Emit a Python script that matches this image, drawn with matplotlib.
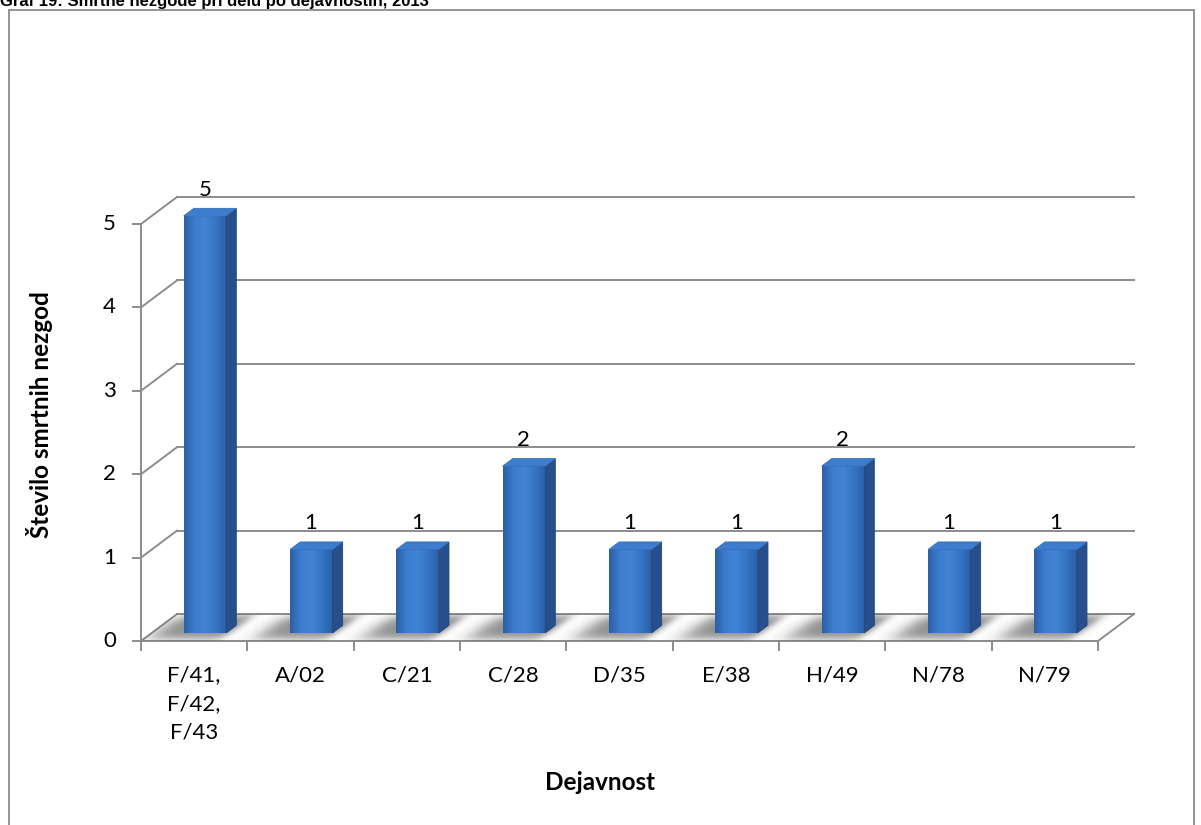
import numpy as np
import matplotlib
matplotlib.use("Agg")
from matplotlib import pyplot as plt
from matplotlib.patches import Polygon, Rectangle
from matplotlib.colors import LinearSegmentedColormap

plt.rcParams['font.family'] = ['Lato', 'DejaVu Sans']

# podatki
dejavnosti = ["F/41,\nF/42,\nF/43", "A/02", "C/21", "C/28", "D/35", "E/38", "H/49", "N/78", "N/79"]
stevilo = [5, 1, 1, 2, 1, 1, 2, 1, 1]
y_ticks = [0, 1, 2, 3, 4, 5]

naslov = "Graf 19: Smrtne nezgode pri delu po dejavnostih, 2013"

# globina 3D prikaza v enotah podatkov
DX = 0.3386
DY = 0.3237
D0, D1 = 0.30, 0.58       # sprednja/zadnja stran stolpca
SIRINA = 0.40
GRID = "#8c8c8c"
FS = 16

fig = plt.figure(figsize=(12.01, 8.25), dpi=100)
ax = fig.add_axes([110/1201, 165/825, 1050/1201, 490/825])
ax.axis("off")

n = len(stevilo)

# zadnja stena - mreza
for k in y_ticks:
    ax.plot([DX, n + DX], [k + DY, k + DY], color=GRID, lw=1.4, zorder=1)
    ax.plot([0, DX], [k, k + DY], color=GRID, lw=1.4, zorder=1)
# leva os
ax.plot([0, 0], [0, y_ticks[-1]], color=GRID, lw=1.4, zorder=1)
for k in y_ticks:
    ax.plot([-0.075, 0], [k, k], color=GRID, lw=1.4, zorder=1)
    ax.text(-0.235, k, str(k), ha="right", va="center", fontsize=FS)
# tla
ax.plot([0, n], [0, 0], color=GRID, lw=1.4, zorder=1)
ax.plot([n, n + DX], [0, DY], color=GRID, lw=1.4, zorder=1)
for i in range(n + 1):
    ax.plot([i, i], [0, -0.11], color=GRID, lw=1.4, zorder=1)

# senca na tleh
gx = np.linspace(-0.2, n + DX, 900)
gy = np.linspace(0, DY, 60)
X, Y = np.meshgrid(gx, gy)
dd = Y / DY
uu = X - dd * DX

def sig(t):
    return 1 / (1 + np.exp(-t))

alpha = np.zeros_like(X)
for i in range(n):
    a = i + 0.5 - SIRINA / 2 - 0.26
    b = i + 0.5 + SIRINA / 2 + 0.03
    fu = sig((uu - a) / 0.06) * sig((b - uu) / 0.03)
    fd = sig((dd - 0.08) / 0.1) * sig((0.95 - dd) / 0.1)
    alpha = np.maximum(alpha, fu * fd)
rgba = np.zeros(X.shape + (4,))
rgba[..., :3] = 0.3
rgba[..., 3] = alpha * 0.65
sh = ax.imshow(rgba, extent=[gx[0], gx[-1], 0, DY], origin="lower",
               aspect="auto", interpolation="bilinear", zorder=2)
floor = Polygon([(0, 0), (n, 0), (n + DX, DY), (DX, DY)], closed=True,
                transform=ax.transData, facecolor="none", edgecolor="none")
ax.add_patch(floor)
sh.set_clip_path(floor)

spredaj = LinearSegmentedColormap.from_list(
    "spredaj", ["#2d5fa6", "#3d7dcf", "#4283d4", "#3675c4", "#2c5ea5"])
sd = D1 - D0

for i, v in enumerate(stevilo):
    xl = i + 0.5 - SIRINA / 2 + D0 * DX
    xr = xl + SIRINA
    yb = D0 * DY
    yt = v + D0 * DY
    # sprednja stran z gradientom
    grad = np.linspace(0, 1, 64).reshape(1, -1)
    ax.imshow(grad, cmap=spredaj, extent=[xl, xr, yb, yt], aspect="auto",
              interpolation="bilinear", zorder=4)
    # desna stran
    ax.add_patch(Polygon([(xr, yb), (xr, yt), (xr + sd * DX, yt + sd * DY),
                          (xr + sd * DX, yb + sd * DY)], closed=True,
                         facecolor="#264f8b", edgecolor="#22487f", lw=0.6, zorder=4))
    # zgornja stran
    ax.add_patch(Polygon([(xl, yt), (xr, yt), (xr + sd * DX, yt + sd * DY),
                          (xl + sd * DX, yt + sd * DY)], closed=True,
                         facecolor="#3e7dce", edgecolor="#3470bd", lw=0.6, zorder=5))
    ax.text(i + 0.6, v + 0.41, str(v), ha="center", va="center", fontsize=FS, zorder=6)
    ax.text(i + 0.5, -0.29, dejavnosti[i], ha="center", va="top", fontsize=FS,
            linespacing=1.55)

ax.set_xlim(-0.2915, 9.583)
ax.set_ylim(-0.2278, 5.6475)

fig.text(40/1201, 1 - 415/825, "Število smrtnih nezgod", rotation=90,
         ha="center", va="center", fontsize=17.5, fontweight="bold")
fig.text(600/1201, 1 - 782/825, "Dejavnost", ha="center", va="center",
         fontsize=17.5, fontweight="bold")

# okvir grafa in naslov
fig.add_artist(Rectangle((9/1201, -0.05), 1185/1201, 1.05 - 10/825,
                         transform=fig.transFigure, facecolor="none",
                         edgecolor="#8a8a8a", lw=1.3))
fig.text(0.0, 1 - 6/825, naslov, ha="left", va="baseline", fontsize=12,
         fontweight="bold", family="Liberation Sans")

fig.savefig("out.png", dpi=100)
